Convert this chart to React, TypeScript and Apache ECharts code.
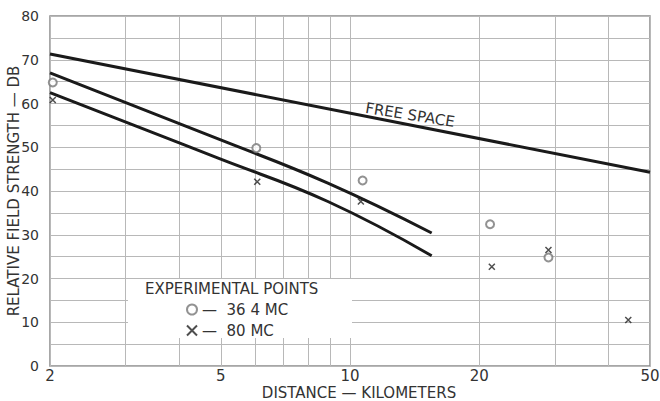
import React, { useEffect, useRef } from 'react';
import * as echarts from 'echarts';

// ---- data (distance in km, level in dB) ----
const freeSpaceKm = [2, 50];
const freeSpaceDb = [71.3, 44.3];

const curve364Km = [2, 4.93, 8.88, 15.5];
const curve364Db = [67.0, 51.9, 41.8, 30.4];

const curve80Km = [2, 4.93, 8.88, 15.5];
const curve80Db = [62.5, 47.5, 37.6, 25.2];

const points364Km = [2.03, 6.05, 10.7, 21.2, 29];
const points364Db = [64.8, 49.8, 42.4, 32.4, 24.8];

const points80Km = [2.03, 6.08, 10.6, 21.4, 29, 44.5];
const points80Db = [60.8, 42.1, 37.6, 22.7, 26.5, 10.5];

const xGridKm = [3, 4, 5, 6, 7, 8, 9, 20, 30, 40];
const xExtraLabelKm = [5, 20];

const seriesNames = ['36 4 MC', '80 MC'];
const yAxisName = 'RELATIVE FIELD STRENGTH — DB';
const xAxisName = 'DISTANCE — KILOMETERS';
const legendTitle = 'EXPERIMENTAL POINTS';
const freeSpaceLabel = 'FREE SPACE';

const FONT = 'DejaVu Sans';
const TEXT = '#333';
const GRID = '#b8b8b8';

const zip = (xs: number[], ys: number[]) => xs.map((x, i) => [x, ys[i]]);

export default function App() {
  const ref = useRef<HTMLDivElement>(null);

  useEffect(() => {
    if (!ref.current) return;
    const chart = echarts.init(ref.current, null, { renderer: 'svg' });

    const curveStyle = { color: '#1a1a1a', width: 3 };

    chart.setOption({
      animation: false,
      backgroundColor: '#fff',
      grid: {
        left: 50,
        right: 10,
        top: 16,
        bottom: 35,
        outerBoundsMode: 'none',
        containLabel: false,
        show: true,
        borderColor: '#8a8a8a',
        borderWidth: 1.5,
      },
      xAxis: {
        type: 'log',
        logBase: 10,
        min: 2,
        max: 50,
        name: xAxisName,
        nameLocation: 'middle',
        nameGap: 20,
        nameMoveOverlap: false,
        nameTextStyle: {
          fontSize: 15,
          lineHeight: 13,
          color: TEXT,
          fontFamily: FONT,
          padding: [0, 0, 0, 18],
        },
        axisLine: { show: false },
        axisTick: { show: false },
        axisLabel: { fontSize: 15, lineHeight: 13, color: TEXT, fontFamily: FONT, margin: 3 },
        splitLine: { show: true, lineStyle: { color: GRID, width: 1 } },
      },
      yAxis: {
        type: 'value',
        min: 0,
        max: 80,
        interval: 5,
        name: yAxisName,
        nameLocation: 'middle',
        nameRotate: 90,
        nameGap: 30,
        nameMoveOverlap: false,
        nameTextStyle: { fontSize: 15, lineHeight: 13, color: TEXT, fontFamily: FONT },
        axisLine: { show: false },
        axisTick: { show: false },
        axisLabel: {
          fontSize: 14,
          color: TEXT,
          fontFamily: FONT,
          margin: 11,
          formatter: (v: number) => (v % 10 === 0 ? String(v) : ''),
        },
        splitLine: { show: true, lineStyle: { color: GRID, width: 1 } },
      },
      legend: {
        data: seriesNames,
        orient: 'vertical',
        left: 181,
        top: 297,
        itemWidth: 10,
        itemHeight: 10,
        itemGap: 6,
        z: 10,
        selectedMode: false,
        formatter: (name: string) => '—  ' + name,
        textStyle: { fontSize: 15, color: TEXT, fontFamily: FONT },
      },
      graphic: [
        {
          type: 'rect',
          z: 3,
          silent: true,
          shape: { x: 128, y: 279, width: 224, height: 59 },
          style: { fill: '#fff' },
        },
        {
          type: 'text',
          z: 10,
          x: 145,
          y: 289,
          style: {
            text: legendTitle,
            fontSize: 15,
            fontFamily: FONT,
            fill: TEXT,
            verticalAlign: 'middle',
          },
        },
        {
          type: 'text',
          z: 10,
          x: 410,
          y: 115,
          rotation: -0.16,
          style: {
            text: freeSpaceLabel,
            fontSize: 15,
            fontFamily: FONT,
            fill: TEXT,
            align: 'center',
            verticalAlign: 'middle',
          },
        },
      ],
      series: [
        {
          name: 'FREE SPACE',
          type: 'line',
          data: zip(freeSpaceKm, freeSpaceDb),
          showSymbol: false,
          symbol: 'none',
          lineStyle: curveStyle,
          silent: true,
          markLine: {
            silent: true,
            z: 1,
            symbol: ['none', 'none'],
            lineStyle: { type: 'solid', color: GRID, width: 1 },
            label: { show: false },
            emphasis: { disabled: true },
            data: xGridKm.map((v) => ({
              xAxis: v,
              label: xExtraLabelKm.includes(v)
                ? {
                    show: true,
                    position: 'start',
                    distance: 3,
                    formatter: String(v),
                    fontSize: 15,
                    lineHeight: 13,
                    color: TEXT,
                    fontFamily: FONT,
                  }
                : { show: false },
            })),
          },
        },
        {
          name: 'curve364',
          type: 'line',
          data: zip(curve364Km, curve364Db),
          smooth: 0.45,
          symbol: 'none',
          lineStyle: curveStyle,
          silent: true,
        },
        {
          name: 'curve80',
          type: 'line',
          data: zip(curve80Km, curve80Db),
          smooth: 0.45,
          symbol: 'none',
          lineStyle: curveStyle,
          silent: true,
        },
        {
          name: seriesNames[0],
          type: 'scatter',
          data: zip(points364Km, points364Db),
          symbol: 'emptyCircle',
          symbolSize: 8,
          itemStyle: { color: '#777', borderColor: '#777', borderWidth: 1.2 },
          z: 4,
        },
        {
          name: seriesNames[1],
          type: 'scatter',
          data: zip(points80Km, points80Db),
          symbol: 'path://M0,0L10,10M10,0L0,10',
          symbolSize: 6,
          itemStyle: { color: '#222', borderColor: '#222', borderWidth: 1.5 },
          z: 4,
        },
      ],
    });

    return () => chart.dispose();
  }, []);

  return (
    <div
      ref={ref}
      style={{ position: 'fixed', left: 0, top: 0, width: 660, height: 401, background: '#fff' }}
    />
  );
}
